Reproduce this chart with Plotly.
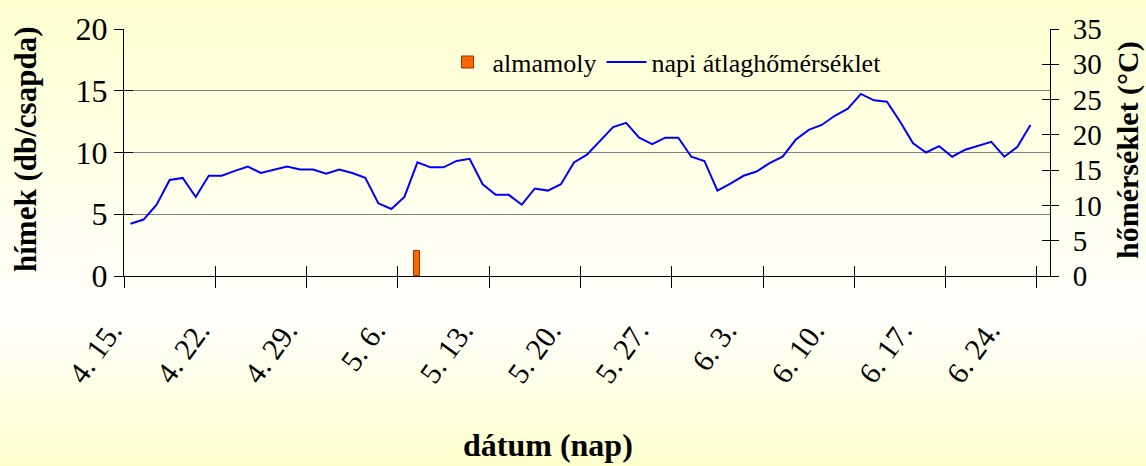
import plotly.graph_objects as go
import pandas as pd

# ---- data -------------------------------------------------------------
dates = pd.date_range("2000-04-15", periods=70, freq="D")
date_labels = [f"{d.month}. {d.day}." for d in dates]

# napi átlaghőmérséklet (°C), one value per day from 4.15 to 6.23
temperature = [
    7.4, 8.0, 10.1, 13.6, 13.9, 11.2, 14.2, 14.2, 14.9, 15.5,
    14.6, 15.1, 15.5, 15.1, 15.1, 14.5, 15.1, 14.6, 13.9, 10.3,
    9.5, 11.2, 16.1, 15.4, 15.4, 16.3, 16.6, 13.0, 11.5, 11.5,
    10.1, 12.4, 12.1, 13.0, 16.1, 17.2, 19.2, 21.1, 21.7, 19.6,
    18.7, 19.6, 19.6, 16.9, 16.3, 12.1, 13.1, 14.2, 14.8, 16.0,
    16.9, 19.3, 20.7, 21.4, 22.7, 23.7, 25.8, 24.9, 24.7, 21.9,
    18.8, 17.5, 18.4, 16.9, 17.9, 18.4, 19.0, 16.9, 18.3, 21.4,
]

# almamoly hímek (db/csapda)
moth_dates = ["5. 7."]
moth_counts = [2]

# x-axis tick labels (weekly)
tick_labels = ["4. 15.", "4. 22.", "4. 29.", "5. 6.", "5. 13.", "5. 20.",
               "5. 27.", "6. 3.", "6. 10.", "6. 17.", "6. 24."]

# ---- positions derived from data -------------------------------------
day_index = list(range(len(dates)))
moth_x = [date_labels.index(d) for d in moth_dates]
tick_vals = [i * 7 - 0.5 for i in range(len(tick_labels))]
x_range = [-0.5, len(dates) + 0.5]
label_range = [-0.5, 73.32]   # label axis is slightly compressed like the original

FONT = "Liberation Serif, Times New Roman, Tinos, DejaVu Serif, serif"

fig = go.Figure()
fig.add_trace(go.Bar(
    x=moth_x, y=moth_counts, name="almamoly", width=0.46,
    marker=dict(color="#FF6600", line=dict(color="#993300", width=1)),
    xaxis="x", yaxis="y",
))
fig.add_trace(go.Scatter(
    x=day_index, y=temperature, name="napi átlaghőmérséklet", mode="lines",
    line=dict(color="#0000FF", width=2),
    xaxis="x", yaxis="y2",
))
# empty helper traces so the overlay axes (cross ticks / labels) get drawn
for xa, ya in [("x2", "y"), ("x3", "y"), ("x", "y3"), ("x", "y4")]:
    fig.add_trace(go.Scatter(x=[], y=[], xaxis=xa, yaxis=ya, mode="lines",
                             showlegend=False, hoverinfo="skip"))

# ---- background gradient (light yellow -> white -> light yellow) -----
W, H = 1146, 466
L, R, T, B = 124, 96, 29, 190
pw, ph = W - L - R, H - T - B
top_c, mid_c, bot_c = (255, 255, 208), (255, 255, 252), (255, 255, 206)
mid_px = 315
step = 4
shapes = []
for py in range(0, H, step):
    c = py + step / 2
    if c <= mid_px:
        f = c / mid_px
        col = [round(top_c[k] + (mid_c[k] - top_c[k]) * f) for k in range(3)]
    else:
        f = (c - mid_px) / (H - mid_px)
        col = [round(mid_c[k] + (bot_c[k] - mid_c[k]) * f) for k in range(3)]
    y0 = (H - B - py) / ph
    y1 = (H - B - (py + step)) / ph
    shapes.append(dict(type="rect", xref="paper", yref="paper",
                       x0=-0.3, x1=1.3, y0=y1, y1=y0 + 0.002,
                       fillcolor=f"rgb({col[0]},{col[1]},{col[2]})",
                       line=dict(width=0), layer="below"))

fig.update_layout(
    width=W, height=H,
    margin=dict(l=L, r=R, t=T, b=B),
    paper_bgcolor="#FFFFF0",
    plot_bgcolor="rgba(0,0,0,0)",
    shapes=shapes,
    showlegend=True,
    bargap=0,
    legend=dict(orientation="h", x=0.344, y=0.866, xanchor="left", yanchor="middle",
                font=dict(family=FONT, size=26, color="black"),
                bgcolor="rgba(0,0,0,0)", itemwidth=40, traceorder="normal"),
    xaxis=dict(range=x_range, tickmode="array", tickvals=tick_vals,
               ticks="outside", ticklen=11, tickcolor="black", tickwidth=1,
               showticklabels=False,
               showline=True, linecolor="black", linewidth=1, showgrid=False, zeroline=False,
               automargin=False),
    xaxis2=dict(range=x_range, overlaying="x", anchor="y", side="bottom",
                tickmode="array", tickvals=tick_vals, ticks="inside", ticklen=10,
                tickcolor="black", showticklabels=False, showline=False,
                showgrid=False, zeroline=False, automargin=False),
    xaxis3=dict(range=label_range, overlaying="x", anchor="y", side="bottom",
                tickmode="array", tickvals=tick_vals, ticktext=tick_labels,
                tickangle=-54, ticks="", showline=False, showgrid=False, zeroline=False,
                tickfont=dict(family=FONT, size=30, color="black"),
                ticklabelstandoff=30, ticklabelshift=-13, automargin=False),
    yaxis=dict(range=[0, 20], dtick=5, tick0=0, ticks="outside", ticklen=9,
               tickcolor="black", showline=True, linecolor="black", linewidth=1,
               showgrid=True, gridcolor="#808080", gridwidth=1, zeroline=False,
               tickfont=dict(family=FONT, size=32, color="black"), automargin=False),
    yaxis3=dict(range=[0, 20], dtick=5, tick0=0, overlaying="y", side="left", anchor="x",
                ticks="inside", ticklen=9, tickcolor="black", showticklabels=False,
                showline=False, showgrid=False, zeroline=False, automargin=False),
    yaxis2=dict(range=[0, 35], dtick=5, tick0=0, overlaying="y", side="right", anchor="x",
                ticks="outside", ticklen=8, tickcolor="black", showline=True,
                linecolor="black", linewidth=1, showgrid=False, zeroline=False,
                tickfont=dict(family=FONT, size=29, color="black"),
                ticklabelstandoff=8, automargin=False),
    yaxis4=dict(range=[0, 35], dtick=5, tick0=0, overlaying="y", side="right", anchor="x",
                ticks="inside", ticklen=8, tickcolor="black", showticklabels=False,
                showline=False, showgrid=False, zeroline=False, automargin=False),
    annotations=[
        dict(text="<b>hímek (db/csapda)</b>", xref="paper", yref="paper",
             x=(25 - L) / pw, y=(H - B - 150) / ph, textangle=-90,
             xanchor="center", yanchor="middle", showarrow=False,
             font=dict(family=FONT, size=31, color="black")),
        dict(text="<b>hőmérséklet (°C)</b>", xref="paper", yref="paper",
             x=(1128 - L) / pw, y=(H - B - 150) / ph, textangle=-90,
             xanchor="center", yanchor="middle", showarrow=False,
             font=dict(family=FONT, size=30, color="black")),
        dict(text="<b>dátum (nap)</b>", xref="paper", yref="paper",
             x=(548 - L) / pw, y=(H - B - 445) / ph,
             xanchor="center", yanchor="middle", showarrow=False,
             font=dict(family=FONT, size=32, color="black")),
    ],
)

fig.write_html("out.html", config={"displayModeBar": False},
               post_script="document.body.style.margin='0';document.body.style.overflow='hidden';")
